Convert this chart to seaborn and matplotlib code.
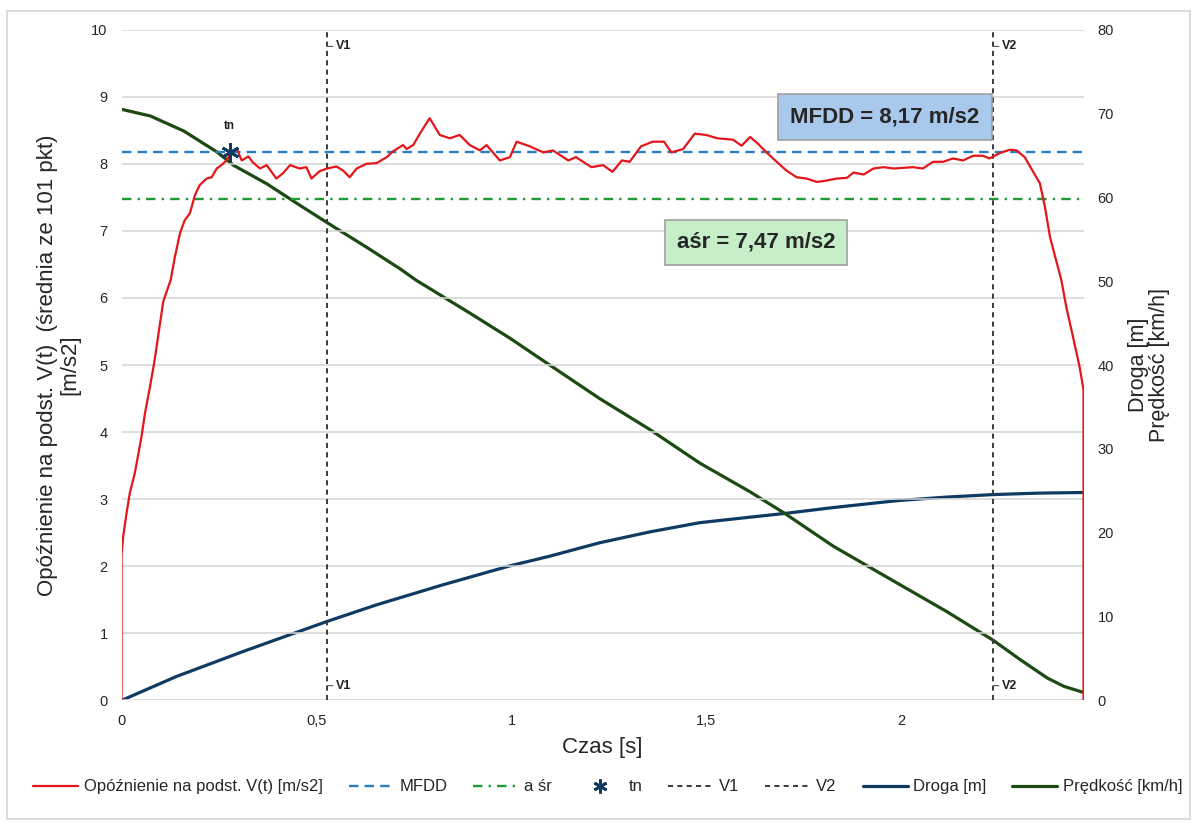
import matplotlib
matplotlib.use('Agg')
import pandas as pd
import matplotlib.pyplot as plt
from matplotlib.lines import Line2D
from matplotlib.patches import Rectangle
import seaborn as sns

# ---------------------------------------------------------------------------
# Dane
# ---------------------------------------------------------------------------

# opóźnienie na podst. V(t) [m/s2]
t_opoznienie = [0, 0, 0.004, 0.013, 0.021, 0.034, 0.051, 0.06, 0.073, 0.085, 0.096, 0.107,
                0.126, 0.137, 0.15, 0.162, 0.175, 0.188, 0.2, 0.218, 0.231, 0.244, 0.256,
                0.269, 0.282, 0.295, 0.308, 0.325, 0.337, 0.355, 0.372, 0.397, 0.414, 0.432,
                0.457, 0.474, 0.487, 0.508, 0.527, 0.551, 0.568, 0.585, 0.603, 0.628, 0.654,
                0.68, 0.697, 0.722, 0.731, 0.748, 0.765, 0.79, 0.816, 0.842, 0.867, 0.893,
                0.919, 0.936, 0.97, 0.996, 1.013, 1.047, 1.082, 1.106, 1.146, 1.165, 1.205,
                1.235, 1.259, 1.283, 1.303, 1.332, 1.362, 1.391, 1.41, 1.44, 1.47, 1.499,
                1.528, 1.568, 1.59, 1.612, 1.632, 1.654, 1.68, 1.705, 1.731, 1.757, 1.783,
                1.808, 1.834, 1.86, 1.877, 1.903, 1.928, 1.954, 1.98, 2.005, 2.03, 2.055,
                2.081, 2.107, 2.132, 2.158, 2.184, 2.209, 2.226, 2.252, 2.278, 2.295, 2.316,
                2.338, 2.355, 2.368, 2.381, 2.394, 2.41, 2.423, 2.44, 2.457, 2.467, 2.467]
a_opoznienie = [0, 2.17, 2.44, 2.8, 3.09, 3.39, 3.93, 4.28, 4.68, 5.08, 5.52, 5.95,
                6.27, 6.62, 6.97, 7.16, 7.26, 7.53, 7.68, 7.78, 7.8, 7.93, 7.98,
                8.05, 8.18, 8.23, 8.05, 8.11, 8.02, 7.93, 7.98, 7.78, 7.86, 7.98,
                7.93, 7.95, 7.78, 7.89, 7.93, 7.96, 7.9, 7.8, 7.93, 8.0, 8.01,
                8.1, 8.19, 8.28, 8.22, 8.28, 8.45, 8.68, 8.43, 8.38, 8.43, 8.28,
                8.2, 8.28, 8.05, 8.1, 8.33, 8.26, 8.17, 8.2, 8.05, 8.1, 7.95,
                7.98, 7.88, 8.05, 8.03, 8.26, 8.33, 8.33, 8.17, 8.22, 8.45, 8.43,
                8.38, 8.36, 8.27, 8.4, 8.3, 8.17, 8.03, 7.9, 7.8, 7.78, 7.73,
                7.75, 7.78, 7.79, 7.87, 7.84, 7.93, 7.95, 7.93, 7.94, 7.95, 7.93,
                8.03, 8.03, 8.08, 8.05, 8.12, 8.12, 8.08, 8.16, 8.21, 8.2, 8.1,
                7.88, 7.71, 7.36, 6.91, 6.62, 6.27, 5.86, 5.42, 4.97, 4.63, 0]

# prędkość [km/h]
t_predkosc = [0, 0.074, 0.16, 0.245, 0.288, 0.373, 0.459, 0.53, 0.63, 0.715, 0.756, 0.893,
              0.996, 1.098, 1.226, 1.355, 1.483, 1.611, 1.701, 1.825, 1.944, 2.03, 2.116,
              2.236, 2.305, 2.374, 2.417, 2.467]
v_predkosc = [70.5, 69.7, 67.9, 65.4, 63.8, 61.6, 59.0, 56.9, 54.0, 51.45, 50.1, 46.2,
              43.2, 40.0, 36.0, 32.3, 28.3, 24.9, 22.3, 18.4, 15.2, 12.9, 10.6,
              7.15, 4.85, 2.67, 1.67, 0.95]

# droga [m]
t_droga = [0, 0.141, 0.312, 0.527, 0.654, 0.825, 0.996, 1.098, 1.226, 1.355, 1.483, 1.611,
           1.701, 1.825, 1.944, 1.996, 2.116, 2.236, 2.35, 2.467]
s_droga = [0, 2.86, 5.84, 9.42, 11.4, 13.8, 16.05, 17.2, 18.8, 20.1, 21.2, 21.85,
           22.3, 23.0, 23.6, 23.85, 24.25, 24.55, 24.72, 24.8]

MFDD = 8.17
A_SR = 7.47
T_N = 0.277
T_V1 = 0.528
T_V2 = 2.236
T_MAX = 2.467

x_ticks = [0, 0.5, 1, 1.5, 2]
x_tick_labels = ['0', '0,5', '1', '1,5', '2']
y_left_ticks = list(range(0, 11))
y_right_ticks = list(range(0, 81, 10))

# kolory
RED = '#e3161b'
BLUE = '#2a7fc1'
GREEN = '#1e9b34'
NAVY = '#0f3b63'
DKGREEN = '#1c4a12'
VLINE = '#3a3a3a'

sns.set_theme(style='white')
plt.rcParams['font.family'] = ['Liberation Sans', 'DejaVu Sans']

df_a = pd.DataFrame({'t': t_opoznienie, 'a': a_opoznienie})
df_v = pd.DataFrame({'t': t_predkosc, 'v': v_predkosc})
df_s = pd.DataFrame({'t': t_droga, 's': s_droga})

fig = plt.figure(figsize=(11.92, 8.24), dpi=100)
ax = fig.add_axes([0.102, 0.150, 0.807, 0.814])
ax2 = ax.twinx()
ax.set_zorder(ax2.get_zorder() + 1)
ax.patch.set_visible(False)

# prawa oś: droga i prędkość
sns.lineplot(data=df_s, x='t', y='s', ax=ax2, color=NAVY, lw=2.3,
             estimator=None, sort=False)
sns.lineplot(data=df_v, x='t', y='v', ax=ax2, color=DKGREEN, lw=2.3,
             estimator=None, sort=False)

# lewa oś: opóźnienie
for y in y_left_ticks:
    ax.axhline(y, color='#d4d4d4', lw=1.1, zorder=0)
ax.axhline(MFDD, color=BLUE, lw=1.7, ls=(0, (4, 2.6)), zorder=2)
ax.axhline(A_SR, color=GREEN, lw=1.7, ls=(0, (4, 2.6, 1, 2.6)), zorder=2)
for tv, name in [(T_V1, 'V1'), (T_V2, 'V2')]:
    ax.axvline(tv, color=VLINE, lw=1.4, ls=(0, (2.6, 2.2)), zorder=2)
    for yl in (9.75, 0.22):
        ax.annotate(name, xy=(tv, yl), xytext=(tv + 0.022, yl),
                    fontsize=9, fontweight='bold', va='center', ha='left', color='#222222',
                    arrowprops=dict(arrowstyle='-', color='#555555', lw=0.8,
                                    shrinkA=0, shrinkB=0))
sns.lineplot(data=df_a, x='t', y='a', ax=ax, color=RED, lw=1.6,
             estimator=None, sort=False, zorder=3)
ax.plot([T_N], [MFDD], marker=(6, 2, 0), color=NAVY, ms=13, mew=2, ls='none', zorder=5)
ax.text(T_N, 8.57, 'tn', fontsize=8.5, fontweight='bold', ha='center', va='center',
        color='#222222')

# ramki z wartościami
ax.text(1.957, 8.70, 'MFDD = 8,17 m/s2', fontsize=16, fontweight='bold', ha='center',
        va='center', zorder=6,
        bbox=dict(boxstyle='square,pad=0.55', facecolor='#a9c9ec', edgecolor='#a0a0a0', lw=1.2))
ax.text(1.627, 6.83, 'aśr = 7,47 m/s2', fontsize=16, fontweight='bold', ha='center',
        va='center', zorder=6,
        bbox=dict(boxstyle='square,pad=0.55', facecolor='#c5eec9', edgecolor='#a0a0a0', lw=1.2))

ax.set_xlim(0, T_MAX)
ax.set_ylim(0, 10)
ax2.set_ylim(0, 80)
ax.set_xticks(x_ticks)
ax.set_xticklabels(x_tick_labels)
ax.set_yticks(y_left_ticks)
ax2.set_yticks(y_right_ticks)
ax.tick_params(axis='both', labelsize=10.5, length=0, pad=10)
ax.tick_params(axis='x', pad=10)
ax2.tick_params(axis='y', labelsize=10.5, length=0, pad=10)

ax.set_xlabel('Czas [s]', fontsize=16, labelpad=6)
ax.set_ylabel('Opóźnienie na podst. V(t)  (średnia ze 101 pkt)\n[m/s2]', fontsize=16,
              labelpad=8, linespacing=1.05)
ax2.set_ylabel('Droga [m]\nPrędkość [km/h]', fontsize=15.5, labelpad=10, linespacing=1.05)

for a in (ax, ax2):
    for side in ('top', 'left', 'right', 'bottom'):
        a.spines[side].set_visible(False)
    a.grid(False)

handles = [
    Line2D([], [], color=RED, lw=1.6),
    Line2D([], [], color=BLUE, lw=1.7, ls=(0, (4, 2.6))),
    Line2D([], [], color=GREEN, lw=1.7, ls=(0, (4, 2.6, 1, 2.6))),
    Line2D([], [], color=NAVY, marker=(6, 2, 0), ms=10, mew=2, ls='none'),
    Line2D([], [], color=VLINE, lw=1.4, ls=(0, (2.6, 2.2))),
    Line2D([], [], color=VLINE, lw=1.4, ls=(0, (2.6, 2.2))),
    Line2D([], [], color=NAVY, lw=2.3),
    Line2D([], [], color=DKGREEN, lw=2.3),
]
labels = ['Opóźnienie na podst. V(t) [m/s2]', 'MFDD', 'a śr', 'tn', 'V1', 'V2',
          'Droga [m]', 'Prędkość [km/h]']
fig.legend(handles, labels, loc='center', bbox_to_anchor=(0.51, 0.045), ncol=8,
           frameon=False, handlelength=2.7, columnspacing=1.55, handletextpad=0.35,
           prop={'size': 12})

fig.patches.append(Rectangle((0.006, 0.006), 0.992, 0.981, transform=fig.transFigure,
                             fill=False, edgecolor='#d6d6d6', lw=1.2))

fig.savefig('out.png', dpi=100)
